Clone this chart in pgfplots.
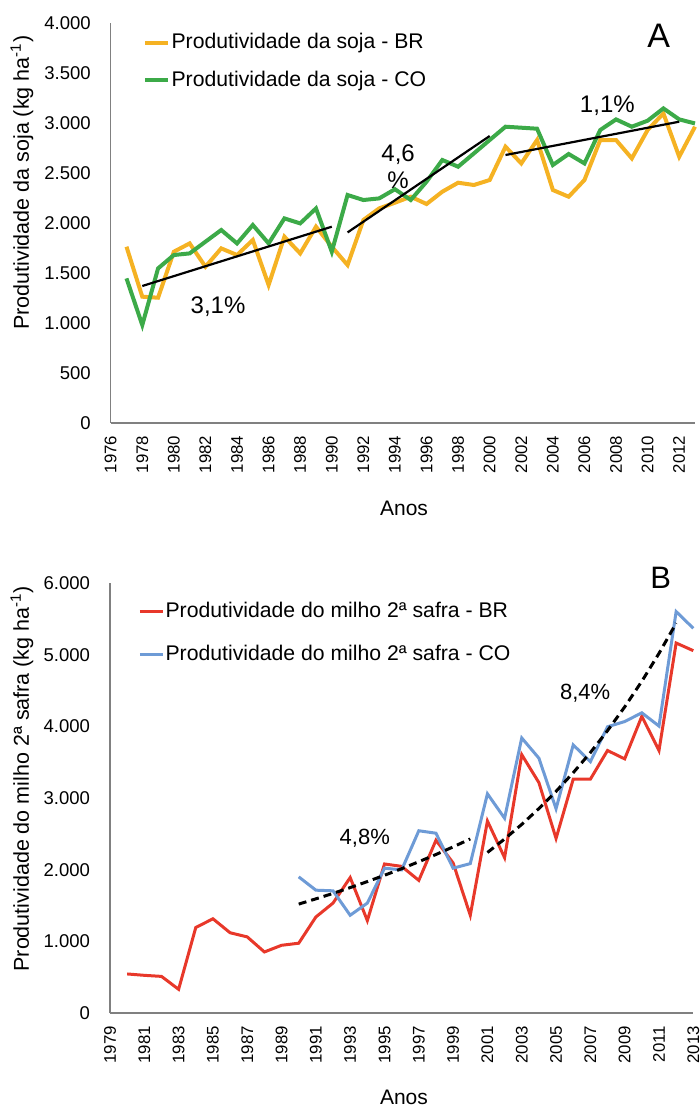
\documentclass[border=0pt]{standalone}
\usepackage{fontspec}
\setmainfont{Liberation Sans}
\usepackage{pgfplots}
\usepackage{pgfplotstable}
\pgfplotsset{compat=1.18}
\definecolor{cyel}{RGB}{245,178,35}
\definecolor{cgrn}{RGB}{60,170,72}
\definecolor{cred}{RGB}{232,56,42}
\definecolor{cblu}{RGB}{110,155,214}
\definecolor{caxis}{RGB}{128,128,128}

\pgfplotstableread{
ano val
1977 1760
1978 1260
1979 1250
1980 1710
1981 1793
1982 1560
1983 1743
1984 1677
1985 1827
1986 1377
1987 1860
1988 1693
1989 1960
1990 1760
1991 1577
1992 2027
1993 2143
1994 2200
1995 2260
1996 2187
1997 2310
1998 2400
1999 2377
2000 2427
2001 2760
2002 2593
2003 2827
2004 2327
2005 2260
2006 2427
2007 2827
2008 2827
2009 2643
2010 2927
2011 3093
2012 2660
2013 2960
}\sojaBR

\pgfplotstableread{
ano val
1977 1443
1978 977
1979 1543
1980 1677
1981 1693
1982 1810
1983 1927
1984 1793
1985 1977
1986 1793
1987 2043
1988 1993
1989 2143
1990 1710
1991 2277
1992 2227
1993 2243
1994 2335
1995 2227
1996 2410
1997 2627
1998 2560
1999 2693
2000 2827
2001 2960
2002 2950
2003 2940
2004 2577
2005 2687
2006 2593
2007 2927
2008 3033
2009 2960
2010 3020
2011 3143
2012 3033
2013 2993
}\sojaCO

\pgfplotstableread{
ano val
1980 545
1981 526
1982 511
1983 331
1984 1193
1985 1315
1986 1120
1987 1062
1988 852
1989 945
1990 974
1991 1340
1992 1534
1993 1890
1994 1290
1995 2080
1996 2046
1997 1851
1998 2411
1999 2094
2000 1364
2001 2679
2002 2168
2003 3605
2004 3215
2005 2436
2006 3263
2007 3263
2008 3663
2009 3546
2010 4140
2011 3663
2012 5163
2013 5056
}\milhoBR

\pgfplotstableread{
ano val
1990 1900
1991 1714
1992 1705
1993 1364
1994 1534
1995 2021
1996 1997
1997 2543
1998 2509
1999 2021
2000 2085
2001 3059
2002 2718
2003 3838
2004 3556
2005 2850
2006 3741
2007 3507
2008 3994
2009 4067
2010 4189
2011 4004
2012 5602
2013 5368
}\milhoCO

\pgfplotsset{
 myaxis/.style={
  scale only axis, clip=false,
  axis x line*=bottom, axis y line*=left,
  axis line style={caxis, line width=0.8pt, -},
  major tick length=0pt,
  tick style={draw=none},
  scaled y ticks=false,
  /pgf/number format/assume math mode=true,
  yticklabel style={font=\fontsize{9.25}{11}\selectfont, /pgf/number format/1000 sep={.}},
  xticklabel style={font=\fontsize{8.4}{10}\selectfont, rotate=90, anchor=east, /pgf/number format/1000 sep={}},
  yticklabel shift=6.5pt,
  xticklabel shift=3pt,
  ylabel style={font=\fontsize{10.75}{12}\selectfont, anchor=center},
  xlabel style={font=\fontsize{10.5}{12}\selectfont, anchor=center},
  legend cell align=left,
  legend style={draw=none, fill=none, font=\fontsize{10.6}{12}\selectfont, anchor=north west, inner sep=0pt, nodes={inner sep=0.6pt}},
  legend image code/.code={\draw[#1] (0pt,0pt) -- (11.5pt,0pt);},
 }
}

\begin{document}
\begin{tikzpicture}[x=1pt,y=1pt]
\useasboundingbox (0,0) rectangle (350,-554.5);
% ---------- Panel A ----------
\begin{axis}[myaxis,
  at={(55.35pt,-211.35pt)}, anchor=south west,
  width=292.15pt, height=200pt,
  xmin=1976, xmax=2013, ymin=0, ymax=4000,
  xtick={1976,1978,...,2012}, ytick={0,500,...,4000},
  xlabel={Anos}, ylabel={Produtividade da soja (kg ha\textsuperscript{-1})},
  xlabel style={at={(axis description cs:0.502,-0.213)}},
  ylabel style={at={(axis description cs:-0.152,0.600)}},
  legend style={at={(axis description cs:0.0553,0.977)}, row sep=8.5pt},
]
\addplot[cyel, line width=2pt] table[x=ano,y=val]{\sojaBR};
\addlegendentry{Produtividade da soja - BR}
\addplot[cgrn, line width=2pt] table[x=ano,y=val]{\sojaCO};
\addlegendentry{Produtividade da soja - CO}
\addplot[black, line width=1.1pt, forget plot] coordinates {(1978,1367) (1990,1960)};
\addplot[black, line width=1.1pt, forget plot] coordinates {(1991,1903) (2000,2867)};
\addplot[black, line width=1.1pt, forget plot] coordinates {(2001,2677) (2012,3010)};
\node[font=\fontsize{12}{14}\selectfont] at (axis cs:1982.8,1157) {3,1\%};
\node[font=\fontsize{12}{13.5}\selectfont, align=center] at (axis cs:1994.2,2560) {4,6\\\%};
\node[font=\fontsize{12}{14}\selectfont] at (axis cs:2007.45,3167) {1,1\%};
\node[font=\fontsize{17}{20}\selectfont] at (axis cs:2010.7,3867) {A};
\end{axis}
% ---------- Panel B ----------
\begin{axis}[myaxis,
  at={(55pt,-506.5pt)}, anchor=south west,
  width=291.65pt, height=215pt,
  xmin=1979, xmax=2013, ymin=0, ymax=6000,
  xtick={1979,1981,...,2013}, ytick={0,1000,...,6000},
  xlabel={Anos}, ylabel={Produtividade do milho 2ª safra (kg ha\textsuperscript{-1})},
  xlabel style={at={(axis description cs:0.504,-0.196)}},
  ylabel style={at={(axis description cs:-0.151,0.545)}},
  legend style={at={(axis description cs:0.048,0.960)}, row sep=11.5pt},
]
\addplot[cred, line width=1.5pt] table[x=ano,y=val]{\milhoBR};
\addlegendentry{Produtividade do milho 2ª safra - BR}
\addplot[cblu, line width=1.5pt] table[x=ano,y=val]{\milhoCO};
\addlegendentry{Produtividade do milho 2ª safra - CO}
\addplot[black, line width=1.5pt, dash pattern=on 4pt off 2.5pt, forget plot] coordinates {
 (1990,1520) (1991,1593) (1992,1669) (1993,1750) (1994,1834) (1995,1922)
 (1996,2014) (1997,2111) (1998,2212) (1999,2318) (2000,2429)};
\addplot[black, line width=1.5pt, dash pattern=on 4pt off 2.5pt, forget plot] coordinates {
 (2001,2240) (2002,2428) (2003,2632) (2004,2853) (2005,3093) (2006,3353)
 (2007,3634) (2008,3940) (2009,4271) (2010,4629) (2011,5018) (2012,5440)};
\node[font=\fontsize{11}{13}\selectfont] at (axis cs:1993.85,2435) {4,8\%};
\node[font=\fontsize{11}{13}\selectfont] at (axis cs:2006.7,4457) {8,4\%};
\node[font=\fontsize{15.5}{18}\selectfont] at (axis cs:2011.1,6069) {B};
\end{axis}
\end{tikzpicture}
\end{document}
